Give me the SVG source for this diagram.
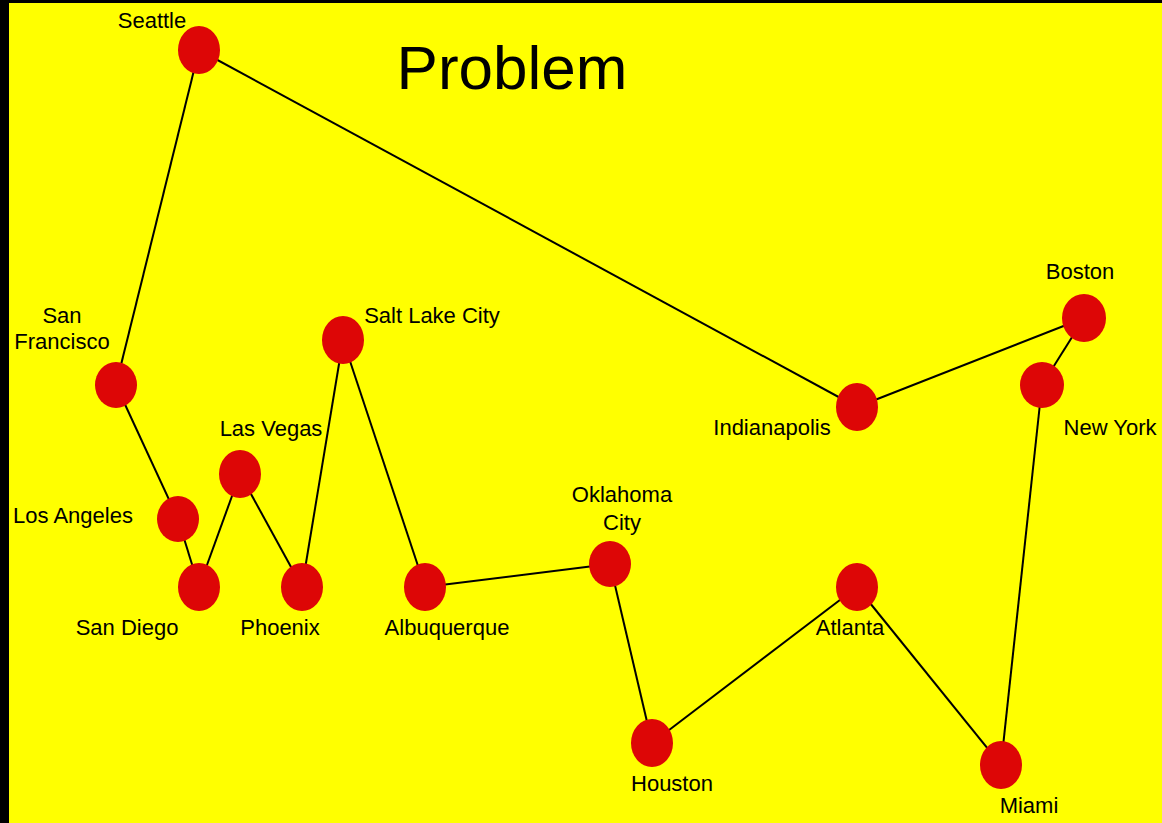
<svg xmlns="http://www.w3.org/2000/svg" width="1162" height="823" viewBox="0 0 1162 823">
  <style>
    .city { fill: #DD0606; }
    .route line { stroke: #000; stroke-width: 2; }
    text { font-family: "Liberation Sans", Arial, sans-serif; font-size: 22px; fill: #000; text-anchor: middle; }
    .title { font-size: 62px; }
  </style>
  <rect x="0" y="0" width="1162" height="823" fill="#000"/>
  <rect x="9" y="3" width="1153" height="820" fill="#FFFF00"/>
  <text class="title" x="512" y="89">Problem</text>

  <g id="route" class="route">
    <line x1="199" y1="50" x2="116" y2="385"/>
    <line x1="116" y1="385" x2="178" y2="519"/>
    <line x1="178" y1="519" x2="199" y2="587"/>
    <line x1="199" y1="587" x2="240" y2="474"/>
    <line x1="240" y1="474" x2="302" y2="587"/>
    <line x1="302" y1="587" x2="343" y2="340"/>
    <line x1="343" y1="340" x2="425" y2="587"/>
    <line x1="425" y1="587" x2="610" y2="564"/>
    <line x1="610" y1="564" x2="652" y2="743"/>
    <line x1="652" y1="743" x2="857" y2="587"/>
    <line x1="857" y1="587" x2="1001" y2="765"/>
    <line x1="1001" y1="765" x2="1042" y2="385"/>
    <line x1="1042" y1="385" x2="1084" y2="318"/>
    <line x1="1084" y1="318" x2="857" y2="407"/>
    <line x1="857" y1="407" x2="199" y2="50"/>
  </g>

  <g id="seattle"><ellipse class="city" cx="199" cy="50" rx="21" ry="24"/><text x="152" y="28">Seattle</text></g>
  <g id="san-francisco"><ellipse class="city" cx="116" cy="385" rx="21" ry="23"/><text x="62" y="323">San</text><text x="62" y="349">Francisco</text></g>
  <g id="los-angeles"><ellipse class="city" cx="178" cy="519" rx="21" ry="23"/><text x="73" y="523">Los Angeles</text></g>
  <g id="san-diego"><ellipse class="city" cx="199" cy="587" rx="21" ry="24"/><text x="127" y="635">San Diego</text></g>
  <g id="las-vegas"><ellipse class="city" cx="240" cy="474" rx="21" ry="24"/><text x="271" y="436">Las Vegas</text></g>
  <g id="phoenix"><ellipse class="city" cx="302" cy="587" rx="21" ry="24"/><text x="280" y="635">Phoenix</text></g>
  <g id="salt-lake-city"><ellipse class="city" cx="343" cy="340" rx="21" ry="24"/><text x="432" y="323">Salt Lake City</text></g>
  <g id="albuquerque"><ellipse class="city" cx="425" cy="587" rx="21" ry="24"/><text x="447" y="635">Albuquerque</text></g>
  <g id="oklahoma-city"><ellipse class="city" cx="610" cy="564" rx="21" ry="23"/><text x="622" y="502">Oklahoma</text><text x="622" y="530">City</text></g>
  <g id="houston"><ellipse class="city" cx="652" cy="743" rx="21" ry="24"/><text x="672" y="791">Houston</text></g>
  <g id="atlanta"><ellipse class="city" cx="857" cy="587" rx="21" ry="24"/><text x="850" y="635">Atlanta</text></g>
  <g id="miami"><ellipse class="city" cx="1001" cy="765" rx="21" ry="24"/><text x="1029" y="813">Miami</text></g>
  <g id="indianapolis"><ellipse class="city" cx="857" cy="407" rx="21" ry="24"/><text x="772" y="435">Indianapolis</text></g>
  <g id="boston"><ellipse class="city" cx="1084" cy="318" rx="22" ry="24"/><text x="1080" y="279">Boston</text></g>
  <g id="new-york"><ellipse class="city" cx="1042" cy="385" rx="22" ry="23"/><text x="1110" y="435">New York</text></g>
</svg>
